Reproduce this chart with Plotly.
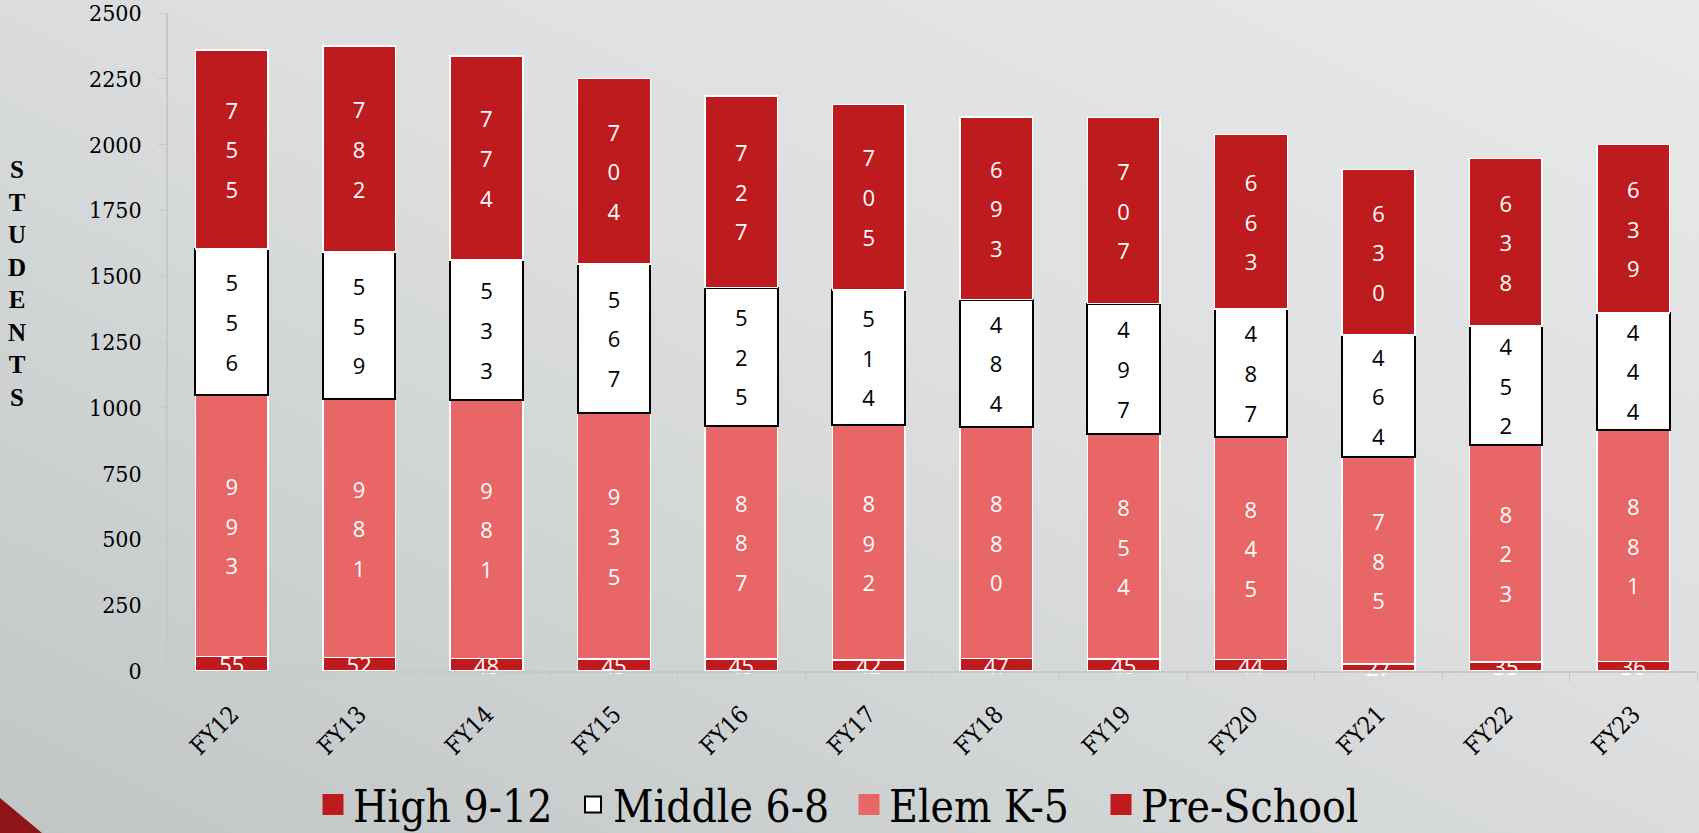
import base64
import plotly.graph_objects as go

years = ["FY12", "FY13", "FY14", "FY15", "FY16", "FY17", "FY18", "FY19", "FY20", "FY21", "FY22", "FY23"]
high = [755, 782, 774, 704, 727, 705, 693, 707, 663, 630, 638, 639]
middle = [556, 559, 533, 567, 525, 514, 484, 497, 487, 464, 452, 444]
elem = [993, 981, 981, 935, 887, 892, 880, 854, 845, 785, 823, 881]
pre = [55, 52, 48, 45, 45, 42, 47, 45, 44, 27, 35, 36]
y_ticks = [0, 250, 500, 750, 1000, 1250, 1500, 1750, 2000, 2250, 2500]

DARK = "#BE1B1E"
LIGHT = "#E86666"
SANS = "Open Sans"
SERIF = "'DejaVu Serif Condensed', 'DejaVu Serif', serif"
SERIF_BOLD = "Times New Roman"


def stacked(vals):
    return ["<br>".join(f"<span style='font-size:22px'>{d}</span>" for d in str(v)) for v in vals]


fig = go.Figure()
common = dict(textposition="inside", insidetextanchor="middle", constraintext="none",
              textangle=0, cliponaxis=False, showlegend=False, hoverinfo="x+y+name")

fig.add_trace(go.Bar(x=years, y=pre, name="Pre-School", marker=dict(color=DARK, line=dict(color="white", width=1.5)),
                     text=[str(v) for v in pre], textfont=dict(family=SANS, size=22, color="white"), **common))
fig.add_trace(go.Bar(x=years, y=elem, name="Elem K-5", marker=dict(color=LIGHT, line=dict(color="white", width=1.5)),
                     text=stacked(elem), textfont=dict(family=SANS, size=30.5, color="white"), **common))
fig.add_trace(go.Bar(x=years, y=middle, name="Middle 6-8", marker=dict(color="white", line=dict(color="black", width=2)),
                     text=stacked(middle), textfont=dict(family=SANS, size=30.5, color="black"), **common))
fig.add_trace(go.Bar(x=years, y=high, name="High 9-12", marker=dict(color=DARK, line=dict(color="white", width=1.5)),
                     text=stacked(high), textfont=dict(family=SANS, size=30.5, color="white"), **common))

# legend entries (symbol fill, symbol outline, outline width, entry width)
legend_items = [("High 9-12", DARK, DARK, 5, 215), ("Middle 6-8", "white", "black", 2, 231),
                ("Elem K-5", LIGHT, LIGHT, 5, 207), ("Pre-School", DARK, DARK, 5, 240)]
for name, col, lc, lw, ew in legend_items:
    fig.add_trace(go.Scatter(x=[None], y=[None], mode="markers", name=name, legendwidth=ew,
                             marker=dict(symbol="square", size=16, color=col, line=dict(color=lc, width=lw)),
                             showlegend=True))

svg = """<svg xmlns="http://www.w3.org/2000/svg" width="1699" height="833" viewBox="0 0 1699 833" preserveAspectRatio="none">
<defs><linearGradient id="g" x1="0" y1="1" x2="1" y2="0">
<stop offset="0" stop-color="#c1c5c6"/><stop offset="0.55" stop-color="#dcdedf"/><stop offset="1" stop-color="#e8e9e9"/>
</linearGradient></defs>
<rect width="1699" height="833" fill="url(#g)"/>
<polygon points="0,798 42,833 0,833" fill="#8e1418"/>
</svg>"""
src = "data:image/svg+xml;base64," + base64.b64encode(svg.encode()).decode()

L, R, T, B = 168, 2, 13, 162
W, H = 1699, 833
pw, ph = W - L - R, H - T - B

fig.update_layout(
    width=W, height=H,
    margin=dict(l=L, r=R, t=T, b=B, autoexpand=False),
    barmode="stack", bargap=0.43,
    paper_bgcolor="#d6d9da", plot_bgcolor="rgba(0,0,0,0)",
    images=[dict(source=src, xref="paper", yref="paper", x=-L / pw, y=1 + T / ph,
                 sizex=W / pw, sizey=H / ph, xanchor="left", yanchor="top",
                 sizing="stretch", layer="below")],
    legend=dict(orientation="h", x=(313 - L) / pw, xanchor="left", y=(ph - (805 - T)) / ph, yanchor="middle",
                font=dict(family=SERIF, size=44, color="black"),
                bgcolor="rgba(0,0,0,0)", traceorder="normal", itemwidth=30),
    xaxis=dict(showline=True, linecolor="#c6c8c9", linewidth=1.5, ticks="outside", tickson="boundaries",
               ticklen=9, tickcolor="#c6c8c9", tickangle=-45, showgrid=False, ticklabelstandoff=18,
               automargin=False,
               tickfont=dict(family=SERIF, size=24, color="black")),
    yaxis=dict(range=[0, 2500], tickvals=y_ticks, showline=True, linecolor="#c6c8c9", linewidth=1.5,
               ticks="outside", ticklen=8, tickcolor="#c6c8c9", showgrid=False, zeroline=False,
               ticklabeloverflow="allow", ticklabelstandoff=12, automargin=False,
               tickfont=dict(family=SERIF, size=23, color="black")),
    annotations=[dict(text="<br>".join("STUDENTS"), xref="paper", yref="paper",
                      x=(17 - L) / pw, y=(ph - (283 - T)) / ph, xanchor="center", yanchor="middle",
                      showarrow=False, font=dict(family=SERIF_BOLD, size=25, color="black", weight="bold"))],
)

fig.write_html("out.html")
